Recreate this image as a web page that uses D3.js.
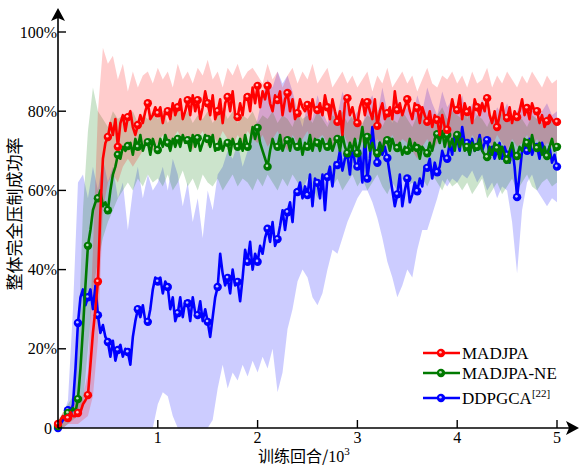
<!DOCTYPE html>
<html lang="zh">
<head>
<meta charset="UTF-8">
<title>整体完全压制成功率</title>
<script src="https://cdn.jsdelivr.net/npm/d3@7"></script>
<style>
  body { margin: 0; background: #fff; }
</style>
</head>
<body>
<script>
// 横坐标: 训练回合 (千), 均值每 25 回合一个点, 置信带每 50 回合一个点
const meanStep = 0.025;
const bandStep = 0.05;

const seriesNames = ['MADJPA', 'MADJPA-NE', 'DDPGCA'];

const madjpaMean = [
  1, 2, 3, 2, 2.5, 4, 3, 3, 3.8, 4, 6, 7, 8.3, 16, 24, 30, 37, 55, 68, 72,
  73.5, 77, 74, 78, 71, 77, 79, 75, 78.5, 80, 76, 74, 76.5, 79, 77, 80, 82, 78, 79, 81,
  79.5, 81, 77, 80, 80, 78, 82, 79, 81, 83, 78, 80, 82.8, 79, 84, 80, 82.8, 78, 81, 85,
  82, 79, 84, 78, 80, 83, 77, 82, 83.6, 80, 85, 79, 78.5, 82, 79, 84, 83.6, 80, 86, 82,
  86.4, 81, 85, 83, 86.4, 82, 80, 84, 82.8, 85, 79, 83, 84.6, 80, 83, 78, 79.5, 83, 81, 80,
  81.6, 78, 83, 80, 80.3, 82, 79, 84, 81, 78, 83, 80, 77.3, 80, 74, 82, 83.3, 79, 81, 78,
  77, 81, 83, 79, 82.3, 80, 78, 83, 76.3, 80, 82, 78, 79.5, 81, 78, 85, 80.3, 82, 79, 81,
  83, 80, 78, 82, 80.8, 77, 81, 79, 77.3, 80, 76, 79, 77.8, 74, 79, 76, 75.3, 79, 83, 80,
  80.3, 84, 78, 82, 79.8, 81, 77, 83, 81, 79, 82, 80, 83.3, 79, 77, 80, 76, 79, 82, 78,
  78.3, 81, 77, 80, 78.5, 80, 83, 79, 80.8, 78, 82, 80, 80, 77, 79, 76, 77.5, 79, 78, 77,
  77.3
];
const madjpaHi = [
  2, 4, 5, 6, 7, 8, 14, 45, 80, 96, 92, 94, 88, 92, 85, 90, 86, 89, 90, 87,
  91, 88, 90, 86, 92, 88, 90, 87, 91, 89, 93, 88, 90, 86, 91, 89, 92, 88, 90, 91,
  89, 87, 92, 88, 90, 86, 89, 91, 87, 90, 88, 92, 87, 89, 91, 86, 88, 90, 87, 89,
  86, 88, 90, 85, 89, 87, 91, 86, 88, 90, 87, 89, 85, 88, 91, 87, 86, 89, 88, 90,
  87, 89, 86, 90, 87, 88, 91, 86, 89, 87, 90, 88, 86, 89, 87, 90, 88, 86, 89, 87,
  88
];
const madjpaLo = [
  0, 0, 1, 1, 1, 2, 3, 8, 22, 55, 62, 64, 62, 66, 68, 66, 68, 70, 72, 70,
  72, 74, 71, 73, 75, 72, 74, 70, 73, 75, 71, 74, 72, 75, 73, 71, 74, 72, 75, 73,
  72, 74, 71, 73, 75, 72, 70, 74, 72, 73, 75, 71, 73, 74, 72, 70, 73, 75, 72, 71,
  73, 72, 74, 71, 73, 70, 72, 74, 71, 73, 72, 70, 68, 71, 73, 70, 72, 74, 71, 73,
  72, 73, 71, 74, 72, 70, 73, 71, 74, 72, 70, 73, 71, 72, 74, 71, 73, 70, 72, 71,
  70
];

const neMean = [
  0.5, 2, 3, 2.5, 3.8, 4, 5, 4, 7.3, 15, 25, 36, 46, 50, 55, 57, 58, 60, 56, 57,
  55, 60, 64, 66, 69, 68, 71, 70, 71.2, 72, 69, 73, 71, 74, 70, 72, 72.2, 69, 73, 71,
  70.2, 73, 71, 74, 72, 70, 73, 71, 73, 71, 74, 72, 72.7, 70, 74, 71, 73.2, 70, 72, 74,
  73, 71, 74, 70, 71, 73, 70, 72, 72, 69, 73, 71, 71, 73, 70, 74, 71, 72, 76, 73,
  75.8, 72, 70, 68, 66, 70, 73, 71, 71, 74, 70, 72, 72.7, 70, 73, 71, 71, 73, 69, 72,
  71, 74, 70, 73, 72, 70, 73, 71, 71, 73, 70, 72, 73, 70, 74, 71, 69.4, 72, 70, 73,
  69.4, 72, 76, 71, 73.5, 70, 72, 69, 69.4, 72, 70, 73, 72.7, 70, 73, 71, 70.7, 72, 69, 71,
  70, 73, 70, 72, 70.7, 68, 71, 70, 69.4, 72, 70, 73, 74.2, 72, 75, 71, 74, 71, 73, 70,
  74, 71, 73, 70, 71, 69, 72, 70, 71, 73, 70, 69, 68.4, 71, 69, 72, 70.7, 68, 71, 69,
  67.7, 70, 72, 69, 68.7, 71, 70, 73, 72, 70, 74, 71, 70.7, 72, 69, 71, 68.7, 71, 73, 70,
  71
];
const neHi = [
  1, 4, 6, 8, 20, 55, 75, 86, 80, 78, 76, 80, 78, 79, 78, 80, 77, 79, 78, 80,
  78, 80, 77, 79, 81, 78, 80, 77, 79, 78, 80, 77, 79, 81, 78, 80, 77, 79, 78, 80,
  77, 79, 78, 80, 77, 79, 78, 76, 80, 78, 79, 77, 80, 78, 76, 79, 78, 80, 77, 79,
  78, 77, 79, 78, 80, 76, 79, 78, 77, 80, 78, 76, 79, 80, 78, 77, 79, 81, 78, 80,
  79, 78, 80, 77, 79, 78, 76, 79, 77, 80, 78, 77, 79, 78, 76, 79, 78, 77, 79, 78,
  77
];
const neLo = [
  0, 0, 1, 2, 3, 6, 20, 35, 42, 48, 52, 55, 58, 60, 62, 60, 63, 61, 64, 62,
  63, 61, 64, 60, 62, 65, 61, 63, 60, 64, 62, 61, 63, 60, 62, 64, 61, 63, 62, 60,
  63, 61, 64, 62, 60, 63, 61, 64, 62, 60, 63, 61, 58, 62, 64, 61, 63, 60, 62, 64,
  61, 63, 60, 62, 64, 61, 59, 62, 60, 63, 61, 62, 60, 63, 61, 64, 62, 60, 63, 61,
  62, 60, 62, 59, 61, 63, 58, 60, 62, 59, 61, 63, 60, 62, 64, 61, 60, 62, 63, 61,
  62
];

const ddpgMean = [
  0, 1, 2, 3, 4.5, 3, 6, 15, 26.5, 33, 35, 31, 33, 35, 30, 36, 28.5, 24, 26, 23,
  21.7, 18, 22, 17, 19.7, 21, 18, 20, 19.2, 16, 23, 27, 30, 28, 31, 27, 26.8, 30, 35, 38,
  37, 38, 34, 37, 35.6, 30, 33, 27, 29, 33, 28, 32, 31.5, 27, 33, 29, 28.5, 32, 27, 30,
  26.8, 23, 28, 33, 35.6, 44, 39, 36, 37.9, 34, 40, 36, 36.9, 32, 38, 45, 42, 47, 40, 44,
  42, 46, 44, 48, 50.3, 47, 52, 46, 47.7, 51, 55, 50, 54.5, 57, 52, 60, 59.6, 62, 58, 61,
  58.8, 64, 56, 63, 61.9, 58, 64, 55, 63.4, 66, 61, 67, 66.4, 70, 65, 68, 69, 64, 71, 67,
  66, 70, 62, 74, 63, 68, 76, 70, 67, 72, 69, 71, 68.2, 64, 60, 56, 59, 64, 56, 60,
  63, 57, 59, 62, 59.8, 63, 61, 66, 65.7, 68, 63, 67, 64.6, 66, 70, 68, 68, 72, 69, 74,
  73, 70, 76, 72, 72, 69, 73, 70, 71, 74, 70, 72, 72.7, 69, 71, 68, 70, 72, 68, 71,
  69, 67, 71, 66, 58.3, 64, 70, 72, 70, 73, 69, 71, 71, 68, 72, 70, 69, 71, 67, 69,
  66
];
const ddpgHi = [
  1, 3, 7, 30, 62, 64, 58, 66, 60, 68, 62, 66, 58, 62, 50, 60, 66, 58, 64, 60,
  62, 66, 60, 68, 64, 56, 62, 52, 58, 48, 60, 55, 64, 66, 70, 68, 72, 66, 70, 74,
  78, 84, 88, 86, 90, 87, 89, 85, 80, 76, 82, 78, 84, 80, 77, 83, 79, 85, 81, 78,
  80, 76, 82, 84, 79, 86, 80, 77, 83, 79, 81, 78, 84, 80, 86, 82, 79, 85, 81, 83,
  80, 84, 78, 82, 79, 83, 80, 77, 81, 79, 82, 78, 80, 83, 79, 81, 78, 80, 82, 79,
  80
];
const ddpgLo = [
  0, 0, 0, 0, 0, 0, 0, 0, 0, 0, 0, 0, 0, 0, 0, 0, 0, 0, 0, 0,
  6, 9, 8, 3, 0, 0, 0, 0, 0, 0, 0, 2, 10, 16, 10, 14, 12, 16, 13, 17,
  14, 18, 15, 20, 9, 14, 25, 30, 37, 40, 38, 33, 31, 34, 40, 45, 44, 48, 52, 55,
  58, 60, 60, 57, 53, 48, 42, 38, 33, 36, 40, 38, 45, 50, 50, 54, 58, 62.6, 61, 63,
  62, 64, 63, 65, 62, 64, 60, 62, 58, 61, 60, 52, 39, 55, 62, 64, 60, 58, 56, 58,
  57
];

const xTicks = [1, 2, 3, 4, 5];
const yTicks = [0, 20, 40, 60, 80, 100];

const width = 579, height = 468;
const x = d3.scaleLinear().domain([0, 5]).range([58, 557]);
const y = d3.scaleLinear().domain([0, 100]).range([428, 32]);

const series = [
  {name: 'DDPGCA', sup: '[22]', color: '#0000ff', mean: ddpgMean, hi: ddpgHi, lo: ddpgLo, ly: 398},
  {name: 'MADJPA-NE', color: '#007a00', mean: neMean, hi: neHi, lo: neLo, ly: 373},
  {name: 'MADJPA', color: '#ff0000', mean: madjpaMean, hi: madjpaHi, lo: madjpaLo, ly: 353}
];

const svg = d3.select('body').append('svg')
    .attr('width', width)
    .attr('height', height)
    .style('display', 'block');

const serif = '"Liberation Serif", "Times New Roman", serif';

// 置信带
const area = d3.area()
    .x((d, i) => x(i * bandStep))
    .y0((d, i) => y(d[0]))
    .y1((d, i) => y(d[1]));
series.forEach(s => {
  svg.append('path')
      .datum(s.lo.map((v, i) => [v, s.hi[i]]))
      .attr('fill', s.color)
      .attr('fill-opacity', 0.2)
      .attr('d', area);
});

// 均值曲线 + 标记
const line = d3.line()
    .x((d, i) => x(i * meanStep))
    .y(d => y(d));
function marker(g, color) {
  g.append('circle').attr('r', 4.2).attr('fill', color);
  g.append('circle').attr('r', 1.3).attr('cx', -0.6).attr('cy', -0.8)
      .attr('fill', '#fff').attr('fill-opacity', 0.75);
}
series.forEach(s => {
  svg.append('path')
      .datum(s.mean)
      .attr('fill', 'none')
      .attr('stroke', s.color)
      .attr('stroke-width', 2.6)
      .attr('stroke-linejoin', 'round')
      .attr('d', line);
  svg.append('g').selectAll('g')
      .data(s.mean.map((v, i) => [i, v]).filter(d => d[0] % 4 === 0))
      .enter().append('g')
      .attr('transform', d => `translate(${x(d[0] * meanStep)},${y(d[1])})`)
      .each(function () { marker(d3.select(this), s.color); });
});

// 坐标轴
const axis = svg.append('g').attr('stroke', '#000').attr('stroke-width', 1.6);
axis.append('line').attr('x1', 58).attr('y1', 428).attr('x2', 572).attr('y2', 428);
axis.append('line').attr('x1', 58).attr('y1', 428).attr('x2', 58).attr('y2', 14);
svg.append('path').attr('d', 'M579,428 L566,421 L569,428 L566,435 Z').attr('fill', '#000');
svg.append('path').attr('d', 'M58,8 L51,21 L58,18 L65,21 Z').attr('fill', '#000');

svg.append('g').selectAll('line').data(yTicks.slice(1)).enter().append('line')
    .attr('x1', 58).attr('x2', 66)
    .attr('y1', d => y(d)).attr('y2', d => y(d))
    .attr('stroke', '#000').attr('stroke-width', 1.4);
svg.append('g').selectAll('line').data(xTicks).enter().append('line')
    .attr('x1', d => x(d)).attr('x2', d => x(d))
    .attr('y1', 428).attr('y2', 420)
    .attr('stroke', '#000').attr('stroke-width', 1.4);

svg.append('g').selectAll('text').data(yTicks).enter().append('text')
    .attr('x', d => d === 0 ? 52 : 57)
    .attr('y', d => y(d))
    .attr('dy', '0.35em')
    .attr('text-anchor', 'end')
    .attr('font-family', serif)
    .attr('font-size', 16)
    .text(d => d === 0 ? '0' : d + '%');
svg.append('g').selectAll('text').data(xTicks).enter().append('text')
    .attr('x', d => x(d))
    .attr('y', 443)
    .attr('text-anchor', 'middle')
    .attr('font-family', serif)
    .attr('font-size', 16)
    .text(d => d);

// 轴标题
const xl = svg.append('text')
    .attr('x', 258).attr('y', 462)
    .attr('font-family', '"Noto Sans CJK SC", ' + serif)
    .attr('font-size', 16);
xl.append('tspan').text('训练回合/');
xl.append('tspan').attr('font-family', serif).text('10');
xl.append('tspan').attr('font-family', serif).attr('font-size', 11).attr('dy', -7).text('3');

svg.append('text')
    .attr('transform', 'translate(21,214) rotate(-90)')
    .attr('text-anchor', 'middle')
    .attr('font-family', '"Noto Sans CJK SC", sans-serif')
    .attr('font-size', 17)
    .text('整体完全压制成功率');

// 图例
series.forEach(s => {
  const g = svg.append('g');
  g.append('line').attr('x1', 423).attr('x2', 460)
      .attr('y1', s.ly).attr('y2', s.ly)
      .attr('stroke', s.color).attr('stroke-width', 2.4);
  const m = g.append('g').attr('transform', `translate(441,${s.ly})`);
  marker(m, s.color);
  const t = g.append('text')
      .attr('x', 462).attr('y', s.ly + 6)
      .attr('font-family', serif)
      .attr('font-size', 17)
      .text(s.name);
  if (s.sup) {
    t.append('tspan').attr('font-size', 11).attr('dy', -7).text(s.sup);
  }
});
</script>
</body>
</html>
